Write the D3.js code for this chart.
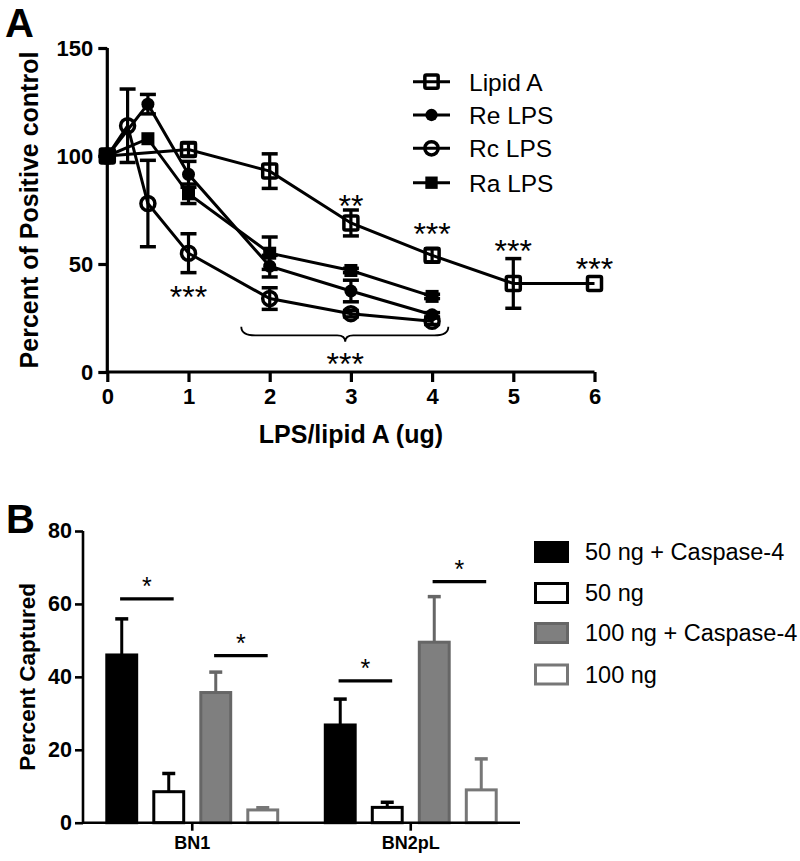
<!DOCTYPE html>
<html><head><meta charset="utf-8">
<script src="https://cdn.jsdelivr.net/npm/d3@7"></script>
<style>body{margin:0;background:#fff}svg{display:block}text{font-family:"Liberation Sans",Arial,sans-serif}</style>
</head><body>
<script>
// ---------- Panel A data ----------
const xTicksA = [0,1,2,3,4,5,6];
const yTicksA = [0,50,100,150];
const lipidADose = [0,1,2,3,4,5,6];
const lipidAVal  = [100,103,93,69,54,41,41];
const lipidAErr  = [0,3,8,6,3,11.5,0];
const reDose = [0,0.5,1,2,3,4];
const reVal  = [100,124,91.5,49,37.5,26.5];
const reErr  = [0,4.5,6,5,5,1];
const rcDose = [0,0.25,0.5,1,2,3,4];
const rcVal  = [100,114,78,55,34,27,23.5];
const rcErr  = [0,17,20,9,5,1.5,1.5];
const raDose = [0,0.5,1,2,3,4];
const raVal  = [100,108,82.5,55,47,35];
const raErr  = [0,0,4.5,7.5,1,1];
const seriesNamesA = ["Lipid A","Re LPS","Rc LPS","Ra LPS"];
const starsA = [{x:1,y:39,t:"***"},{x:3,y:81,t:"**"},{x:4,y:68,t:"***"},{x:5,y:60,t:"***"},{x:6,y:52,t:"***"},{x:2.93,y:8,t:"***"}];
const braceA = {x0:1.65,x1:4.2,xm:2.93,yTop:21,yBot:17,yTip:14};

// ---------- Panel B data ----------
const groupsB = ["BN1","BN2pL"];
const seriesB = ["50 ng + Caspase-4","50 ng","100 ng + Caspase-4","100 ng"];
const valsB = [[46,8.5,35.7,3.5],[26.8,4.2,49.5,9]];
const errsB = [[9.9,5,5.6,0.6],[7.1,1.4,12.5,8.5]];
const yTicksB = [0,20,40,60,80];
const sigB = [{g:0,a:0,b:1,y:61.4},{g:0,a:2,b:3,y:45.8},{g:1,a:0,b:1,y:38.9},{g:1,a:2,b:3,y:66.1}];

const W=800,H=861;
const svg=d3.select("body").append("svg").attr("width",W).attr("height",H);
svg.append("rect").attr("width",W).attr("height",H).attr("fill","#fff");

// ================= Panel A =================
const xA=d3.scaleLinear().domain([0,6]).range([107.3,594.5]);
const yA=d3.scaleLinear().domain([0,150]).range([372,48]);
const gA=svg.append("g");

const axX=gA.append("g").attr("transform",`translate(0,${yA(0)})`)
  .call(d3.axisBottom(xA).tickValues(xTicksA).tickFormat(d3.format("d")).tickSize(10).tickPadding(6));
const axY=gA.append("g").attr("transform",`translate(${xA(0)},0)`)
  .call(d3.axisLeft(yA).tickValues(yTicksA).tickSize(9).tickPadding(5));
[axX,axY].forEach(a=>{
  a.select(".domain").attr("stroke","#000").attr("stroke-width",3.2);
  a.selectAll(".tick line").attr("stroke","#000").attr("stroke-width",3.2);
  a.selectAll(".tick text").attr("fill","#000").style("font-size","22px").style("font-weight","bold");
});
axX.select(".domain").attr("d",`M${xA(0)},0H${xA(6)}`);
axY.select(".domain").attr("d",`M0,${yA(150)}V${yA(0)}`);

gA.append("text").attr("x",5).attr("y",37).text("A").style("font-size","40px").style("font-weight","bold");
gA.append("text").attr("transform",`translate(38,${(yA(0)+yA(150))/2}) rotate(-90)`).attr("text-anchor","middle")
  .text("Percent of Positive control").style("font-size","25px").style("font-weight","bold");
gA.append("text").attr("x",xA(3)).attr("y",443).attr("text-anchor","middle")
  .text("LPS/lipid A (ug)").style("font-size","25px").style("font-weight","bold");

const seriesA=[
  {name:seriesNamesA[0],dose:lipidADose,val:lipidAVal,err:lipidAErr,shape:"osq"},
  {name:seriesNamesA[1],dose:reDose,val:reVal,err:reErr,shape:"fci"},
  {name:seriesNamesA[2],dose:rcDose,val:rcVal,err:rcErr,shape:"oci"},
  {name:seriesNamesA[3],dose:raDose,val:raVal,err:raErr,shape:"fsq"}
];
const line=d3.line().x(d=>xA(d[0])).y(d=>yA(d[1]));
seriesA.forEach(s=>{
  const pts=s.dose.map((d,i)=>[d,s.val[i]]);
  gA.append("path").attr("d",line(pts)).attr("fill","none").attr("stroke","#000").attr("stroke-width",3);
});
seriesA.forEach(s=>{
  s.dose.forEach((d,i)=>{
    const e=s.err[i]; if(!e) return;
    const cx=xA(d),y1=yA(s.val[i]+e),y2=yA(s.val[i]-e);
    gA.append("line").attr("x1",cx).attr("x2",cx).attr("y1",y1).attr("y2",y2).attr("stroke","#000").attr("stroke-width",3.2);
    [y1,y2].forEach(yy=>gA.append("line").attr("x1",cx-8).attr("x2",cx+8).attr("y1",yy).attr("y2",yy).attr("stroke","#000").attr("stroke-width",3.5));
  });
});
function marker(g,shape,cx,cy,sc){
  sc=sc||1;
  if(shape==="osq") g.append("rect").attr("x",cx-7*sc).attr("y",cy-7*sc).attr("width",14*sc).attr("height",14*sc).attr("rx",1.5)
      .attr("fill","none").attr("stroke","#000").attr("stroke-width",3.5);
  else if(shape==="fsq") g.append("rect").attr("x",cx-6.5*sc).attr("y",cy-6.5*sc).attr("width",13*sc).attr("height",13*sc).attr("fill","#000");
  else if(shape==="fci") g.append("circle").attr("cx",cx).attr("cy",cy).attr("r",6.5*sc).attr("fill","#000");
  else if(shape==="oci") g.append("circle").attr("cx",cx).attr("cy",cy).attr("r",7*sc).attr("fill","none").attr("stroke","#000").attr("stroke-width",3.5);
}
seriesA.forEach(s=>s.dose.forEach((d,i)=>marker(gA,s.shape,xA(d),yA(s.val[i]))));

starsA.forEach(s=>gA.append("text").attr("x",xA(s.x)).attr("y",yA(s.y)).attr("dy","0.62em").attr("text-anchor","middle")
  .text(s.t).style("font-size","32px"));
{
  const b=braceA, p=d3.path();
  const xl=xA(b.x0),xr=xA(b.x1),xm=xA(b.xm),yt=yA(b.yTop),yb=yA(b.yBot),yp=yA(b.yTip);
  p.moveTo(xl,yt); p.quadraticCurveTo(xl,yb,xl+14,yb); p.lineTo(xm-8,yb); p.quadraticCurveTo(xm,yb,xm,yp);
  p.quadraticCurveTo(xm,yb,xm+8,yb); p.lineTo(xr-14,yb); p.quadraticCurveTo(xr,yb,xr,yt);
  gA.append("path").attr("d",p.toString()).attr("fill","none").attr("stroke","#000").attr("stroke-width",1.8);
}
const legA=gA.append("g");
const legRowsA=[81.7,115,148.3,182.7];
seriesA.forEach((s,i)=>{
  const y=legRowsA[i];
  legA.append("line").attr("x1",413).attr("x2",450).attr("y1",y).attr("y2",y).attr("stroke","#000").attr("stroke-width",3);
  marker(legA,s.shape,431.5,y,0.95);
  legA.append("text").attr("x",469).attr("y",y).attr("dy","0.36em").text(s.name).style("font-size","24.5px");
});

// ================= Panel B =================
const yB=d3.scaleLinear().domain([0,80]).range([822.7,531]);
const x0=d3.scaleBand().domain(groupsB).range([83,520]).paddingInner(0.204).paddingOuter(0.102);
const x1=d3.scaleBand().domain(d3.range(4)).range([0,x0.bandwidth()]).paddingInner(0.3).paddingOuter(0);
const gB=svg.append("g");
const fills=["#000","#fff","#7f7f7f","#fff"];
const strokes=["#000","#000","#666","#777"];

valsB.forEach((row,gi)=>{
  row.forEach((v,si)=>{
    const bx=x0(groupsB[gi])+x1(si),bw=x1.bandwidth(),cx=bx+bw/2;
    const e=errsB[gi][si];
    gB.append("line").attr("x1",cx).attr("x2",cx).attr("y1",yB(v)).attr("y2",yB(v+e)).attr("stroke",strokes[si]).attr("stroke-width",3);
    gB.append("line").attr("x1",cx-6.5).attr("x2",cx+6.5).attr("y1",yB(v+e)).attr("y2",yB(v+e)).attr("stroke",strokes[si]).attr("stroke-width",3.5);
    gB.append("rect").attr("x",bx+1.5).attr("y",yB(v)).attr("width",bw-3).attr("height",yB(0)-yB(v))
      .attr("fill",fills[si]).attr("stroke",strokes[si]).attr("stroke-width",3);
  });
});
const axBX=gB.append("g").attr("transform",`translate(0,${yB(0)})`)
  .call(d3.axisBottom(x0).tickSize(8).tickPadding(6));
const axBY=gB.append("g").attr("transform",`translate(83,0)`)
  .call(d3.axisLeft(yB).tickValues(yTicksB).tickSize(8).tickPadding(3));
[axBX,axBY].forEach(a=>{
  a.select(".domain").attr("stroke","#000").attr("stroke-width",2.6);
  a.selectAll(".tick line").attr("stroke","#000").attr("stroke-width",2.6);
  a.selectAll(".tick text").attr("fill","#000").style("font-weight","bold");
});
axBX.select(".domain").attr("d",`M83,0H520`);
axBY.select(".domain").attr("d",`M0,${yB(80)}V${yB(0)}`);
axBY.selectAll(".tick text").style("font-size","21.5px");
axBX.selectAll(".tick text").style("font-size","18px");

gB.append("text").attr("x",6).attr("y",533).text("B").style("font-size","40px").style("font-weight","bold");
gB.append("text").attr("transform",`translate(35,${(yB(0)+yB(80))/2}) rotate(-90)`).attr("text-anchor","middle")
  .text("Percent Captured").style("font-size","22.5px").style("font-weight","bold");

sigB.forEach(s=>{
  const bw=x1.bandwidth();
  const xa=x0(groupsB[s.g])+x1(s.a)+bw*0.45, xb=x0(groupsB[s.g])+x1(s.b)+bw*0.65;
  gB.append("line").attr("x1",xa).attr("x2",xb).attr("y1",yB(s.y)).attr("y2",yB(s.y)).attr("stroke","#000").attr("stroke-width",3.2);
  gB.append("text").attr("x",(xa+xb)/2).attr("y",yB(s.y)-4).attr("text-anchor","middle").text("*").style("font-size","25px");
});

const legRowsB=[552,593,633,674.5];
seriesB.forEach((n,i)=>{
  gB.append("rect").attr("x",535.5).attr("y",legRowsB[i]-9.5).attr("width",32).attr("height",19)
    .attr("fill",fills[i]).attr("stroke",strokes[i]).attr("stroke-width",3);
  gB.append("text").attr("x",585).attr("y",legRowsB[i]).attr("dy","0.36em").text(n).style("font-size","23.5px");
});
</script>
</body></html>
